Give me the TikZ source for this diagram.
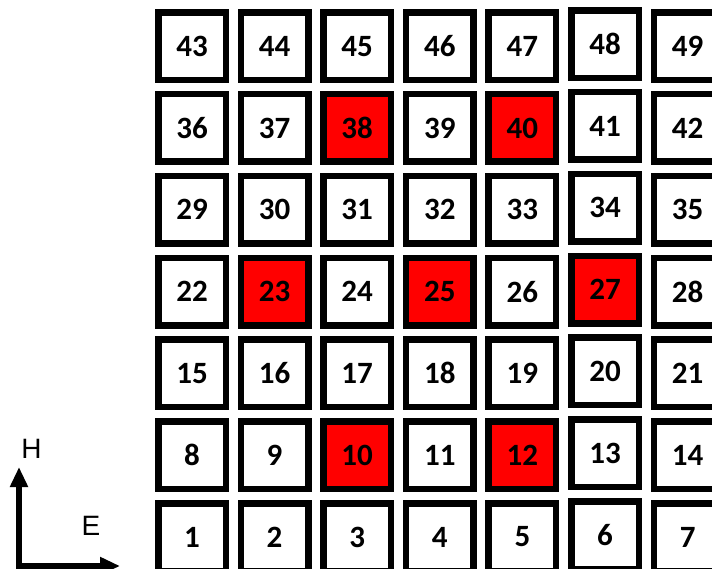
\documentclass[tikz,border=0pt]{standalone}
\usepackage{fontspec}
\setmainfont{Carlito}
\newfontfamily\axisfont{Liberation Sans}
\usetikzlibrary{arrows.meta}
\begin{document}
\begin{tikzpicture}[
    x=1pt, y=-1pt,
    cell/.style={draw, line width=6.5pt, fill=white, minimum size=67.5pt, inner sep=0pt, font=\fontsize{31}{31}\selectfont\bfseries},
    c10/.style={fill=red}, c12/.style={fill=red}, c23/.style={fill=red}, c25/.style={fill=red},
    c27/.style={fill=red}, c38/.style={fill=red}, c40/.style={fill=red},
    axis/.style={line width=6.5pt, {Triangle[length=20pt,width=17pt]}-{Triangle[length=20pt,width=17pt]}},
    lbl/.style={font=\axisfont\fontsize{28}{28}\selectfont}
]
    % Frame
    \useasboundingbox (0,0) rectangle (712,569);

    % Cell grid, 1 at bottom left, 49 at top right
    \foreach \n in {1,...,49}{
        \pgfmathtruncatemacro\r{(\n-1)/7}
        \pgfmathtruncatemacro\c{mod(\n-1,7)}
        \pgfmathsetmacro\dy{\c==5 ? -2 : 0}
        \node[cell, c\n/.try] (cell\n) at ({192+82.6*\c}, {537-81.8*\r+\dy}) {\n};
    }

    % Axes
    \coordinate (corner) at (19,566);
    \coordinate (hEnd) at (19,467);
    \coordinate (eEnd) at (120,566);
    \draw[axis] (hEnd) -- (corner) -- (eEnd);
    \node[lbl] (hLabel) at (31.5,449) {H};
    \node[lbl] (eLabel) at (91,526) {E};
\end{tikzpicture}
\end{document}
